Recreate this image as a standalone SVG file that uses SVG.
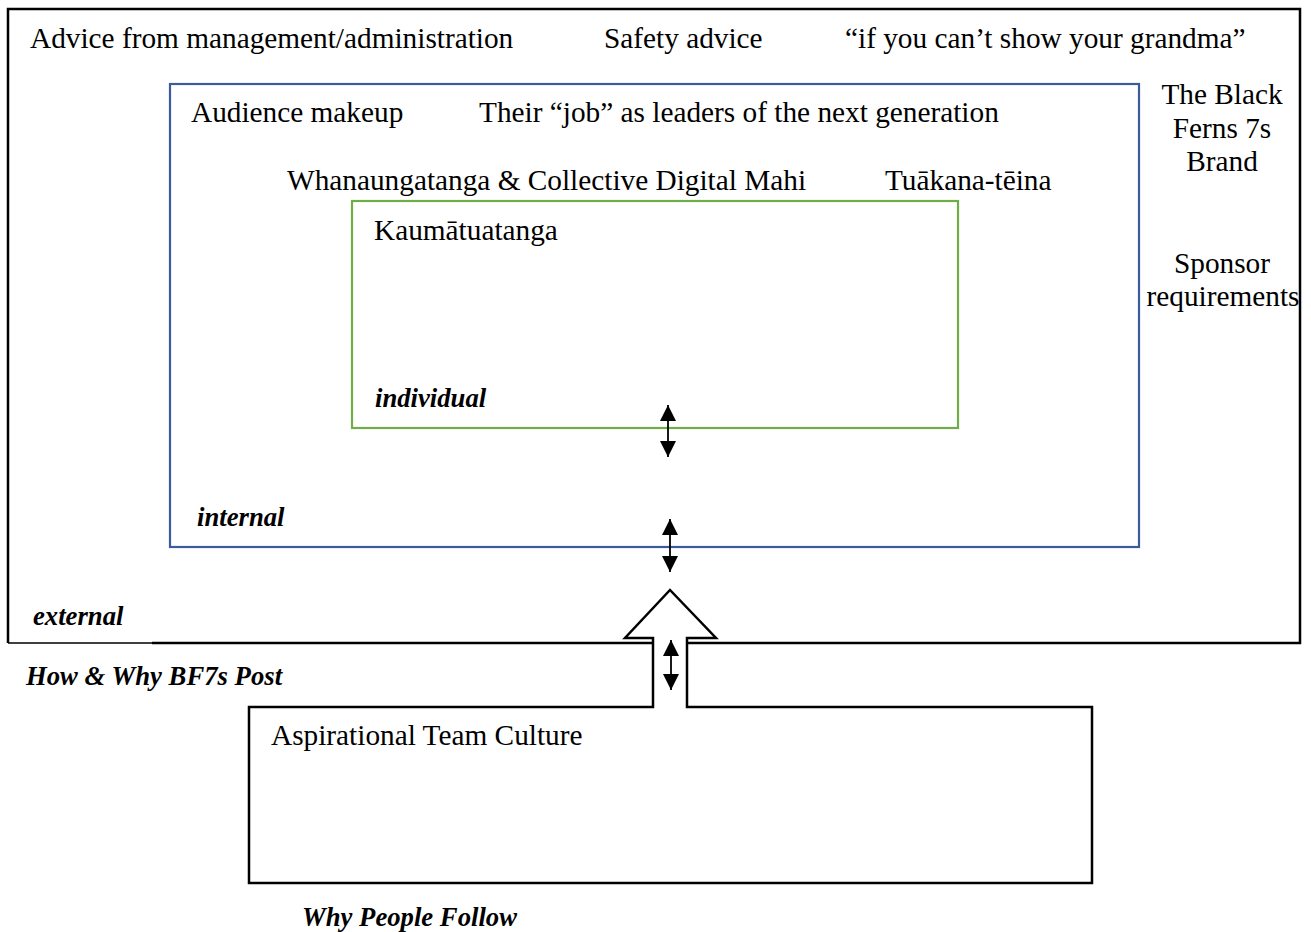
<svg xmlns="http://www.w3.org/2000/svg" width="1311" height="932" viewBox="0 0 1311 932">
  <style>
    .t { font-family: "Liberation Serif", "Times New Roman", serif; font-size: 29.3px; fill: #000; }
    .lbl { font-family: "Liberation Serif", "Times New Roman", serif; font-size: 26.7px; font-weight: bold; font-style: italic; fill: #000; }
    .mid { text-anchor: middle; }
    .frame { fill: none; stroke: #000; stroke-width: 2.5; }
    .link { stroke: #000; stroke-width: 1.8; fill: none; marker-start: url(#head); marker-end: url(#head); }
  </style>
  <defs>
    <marker id="head" viewBox="0 0 10 10" refX="10" refY="5" markerWidth="16" markerHeight="16" markerUnits="userSpaceOnUse" orient="auto-start-reverse">
      <path d="M0,0 L10,5 L0,10 Z" fill="#000"/>
    </marker>
  </defs>
  <rect width="1311" height="932" fill="#fff"/>

  <!-- outer context: external -->
  <g id="external">
    <path class="frame" d="M8,643 V9 H1300 V643 H687"/>
    <path class="frame" d="M653,643 H152"/>
    <path d="M152,643 H8" stroke="#000" stroke-width="1.5" fill="none"/>
    <text class="t" x="30" y="48">Advice from management/administration</text>
    <text class="t" x="604" y="48">Safety advice</text>
    <text class="t" x="845" y="48">“if you can’t show your grandma”</text>
    <text class="t mid" x="1222" y="104">The Black</text>
    <text class="t mid" x="1222" y="138">Ferns 7s</text>
    <text class="t mid" x="1222" y="171">Brand</text>
    <text class="t mid" x="1222" y="273">Sponsor</text>
    <text class="t mid" x="1223" y="306">requirements</text>
    <text class="lbl" x="33" y="625">external</text>
  </g>

  <!-- internal context -->
  <g id="internal">
    <rect x="170" y="84" width="969" height="463" fill="none" stroke="#3b5b9a" stroke-width="2.2"/>
    <text class="t" x="191" y="122">Audience makeup</text>
    <text class="t" x="479" y="122">Their “job” as leaders of the next generation</text>
    <text class="t" x="287" y="190">Whanaungatanga &amp; Collective Digital Mahi</text>
    <text class="t" x="885" y="190">Tuākana-tēina</text>
    <text class="lbl" x="197" y="526">internal</text>
  </g>

  <!-- individual context -->
  <g id="individual">
    <rect x="352" y="201" width="606" height="227" fill="none" stroke="#70ad47" stroke-width="2.2"/>
    <text class="t" x="374" y="240">Kaumātuatanga</text>
    <text class="lbl" x="375" y="407">individual</text>
  </g>

  <!-- team culture box with the upward block arrow -->
  <g id="team-culture">
    <path class="frame" d="M653,707 H249 V883 H1092 V707 H687 V638 H716 L670,590 L625,638 H653 Z" fill="none"/>
    <text class="t" x="271" y="745">Aspirational Team Culture</text>
  </g>

  <g id="captions">
    <text class="lbl" x="26" y="685">How &amp; Why BF7s Post</text>
    <text class="lbl" x="302" y="926">Why People Follow</text>
  </g>

  <!-- two-way links between levels -->
  <g id="connectors">
    <line class="link" x1="668" y1="405" x2="668" y2="457"/>
    <line class="link" x1="670" y1="519" x2="670" y2="572"/>
    <line class="link" x1="671" y1="640" x2="671" y2="690"/>
  </g>
</svg>
